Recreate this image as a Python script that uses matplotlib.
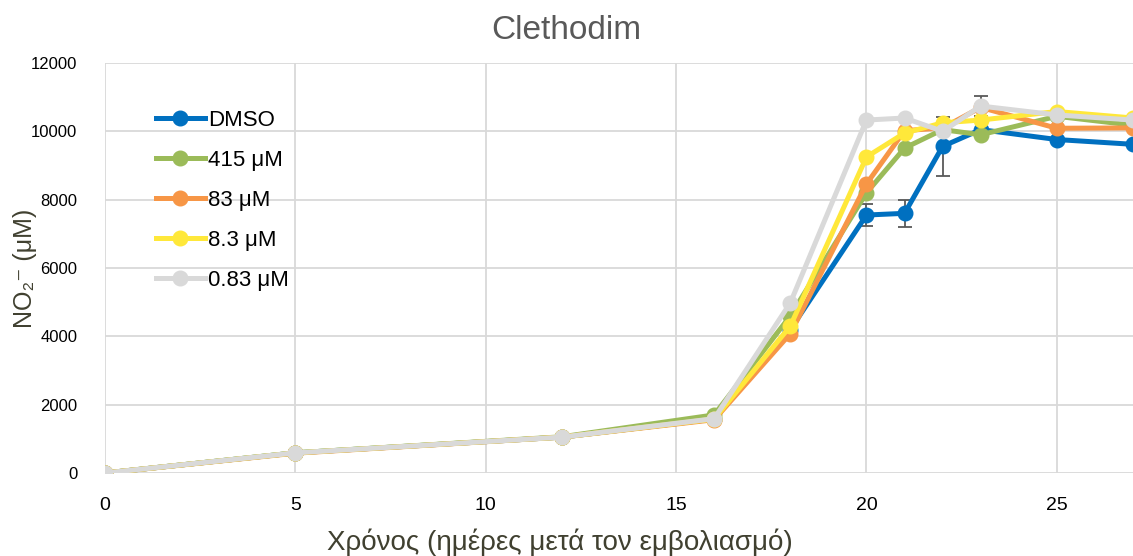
import matplotlib
matplotlib.use("Agg")
import matplotlib.pyplot as plt

plt.rcParams['font.family'] = ['Liberation Sans', 'DejaVu Sans']

# Days after inoculation and nitrite concentration (uM) per treatment
days = [0, 5, 12, 16, 18, 20, 21, 22, 23, 25, 27]
dmso = [0, 590, 1050, 1580, 4200, 7550, 7600, 9560, 10050, 9760, 9620]
c415 = [0, 590, 1060, 1700, 4600, 8200, 9510, 10050, 9900, 10440, 10180]
c83 = [0, 580, 1050, 1560, 4080, 8460, 10020, 10100, 10700, 10090, 10100]
c8_3 = [0, 590, 1050, 1580, 4300, 9250, 9950, 10250, 10330, 10580, 10390]
c0_83 = [0, 590, 1050, 1590, 4980, 10330, 10390, 10000, 10740, 10480, 10330]

dmso_err = [0, 0, 0, 0, 0, 330, 400, 860, 0, 0, 0]
c0_83_err = [0, 0, 0, 0, 0, 0, 0, 0, 280, 0, 0]

labels = ['DMSO', '415 μM', '83 μM', '8.3 μM', '0.83 μM']
series = [dmso, c415, c83, c8_3, c0_83]
colors = ['#0070C0', '#9BBB59', '#F79646', '#FFE83A', '#D9D9D9']
errors = [dmso_err, None, None, None, c0_83_err]

fig = plt.figure(figsize=(11.33, 5.56), dpi=100)
ax = fig.add_axes([105 / 1133, 1 - 473 / 556, 1 - 105 / 1133, (473 - 63) / 556])

for vals, lab, col, err in zip(series, labels, colors, errors):
    if err is not None:
        ax.errorbar(days, vals, yerr=err, fmt='none', ecolor='#595959',
                    elinewidth=1.3, capsize=5, capthick=1.3, zorder=2)
    ax.plot(days, vals, color=col, lw=3.6, marker='o', markersize=10.5,
            label=lab, zorder=3)

ax.set_xlim(0, 27)
ax.set_ylim(0, 12000)
ax.set_xticks([0, 5, 10, 15, 20, 25])
ax.set_yticks(range(0, 12001, 2000))
ax.grid(True, color='#D9D9D9', lw=1.3)
ax.set_axisbelow(True)
for s in ax.spines.values():
    s.set_visible(False)
ax.tick_params(length=0, labelsize=12, colors='black')
ax.tick_params(axis='x', pad=17, labelsize=14)
ax.tick_params(axis='y', pad=20)

ax.set_title('Clethodim', fontsize=24, color='#595959', pad=17, x=0.449)
ax.set_xlabel('Χρόνος (ημέρες μετά τον εμβολιασμό)', fontsize=20,
              color='#404030', labelpad=4)
ax.xaxis.set_label_coords(0.4426, -0.135)
ax.set_ylabel('NO₂⁻ (μM)', fontsize=18, color='#404030')
ax.yaxis.set_label_coords(-0.066, 0.5)

leg = ax.legend(loc='upper left', bbox_to_anchor=(0.041, 0.907), frameon=False,
                fontsize=16, handlelength=2.2, handletextpad=0.15,
                labelspacing=0.85, borderaxespad=0)

fig.savefig('out.png', dpi=100)
